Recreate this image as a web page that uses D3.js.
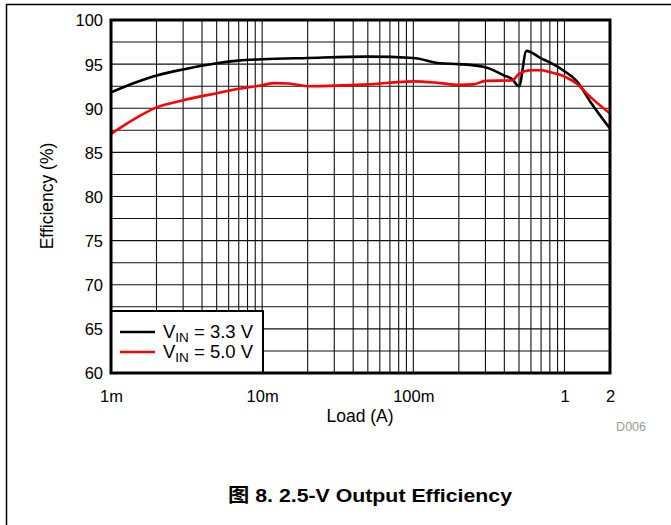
<!DOCTYPE html>
<html><head><meta charset="utf-8">
<script src="https://cdn.jsdelivr.net/npm/d3@7"></script>
<style>body{margin:0;background:#fff}svg{display:block;font-family:"Liberation Sans",Arial,sans-serif}</style>
</head><body><svg id="c" width="671" height="525"></svg>
<script>
const loads3v3 = [0.001,0.0015,0.002,0.003,0.005,0.007,0.01,0.02,0.05,0.1,0.15,0.2,0.3,0.4,0.45,0.5,0.56,0.7,0.8,1,1.2,1.5,2];
const eff3v3   = [91.8,93.0,93.7,94.4,95.1,95.4,95.55,95.7,95.85,95.7,95.1,95.0,94.65,93.7,93.3,92.5,96.5,95.66,95.2,94.2,93.1,90.6,87.7];
const loads5v0 = [0.001,0.0015,0.002,0.003,0.005,0.007,0.01,0.012,0.015,0.02,0.05,0.1,0.15,0.2,0.25,0.3,0.45,0.5,0.6,0.7,0.8,1,1.2,1.5,2];
const eff5v0   = [87.1,89.0,90.1,90.9,91.7,92.2,92.6,92.85,92.8,92.5,92.7,93.05,92.85,92.65,92.7,93.1,93.15,93.9,94.3,94.3,94.1,93.6,92.8,91.2,89.4];
const xTickVals = [0.001,0.01,0.1,1,2];
const xTickLabels = ["1m","10m","100m","1","2"];
const yTickVals = [60,65,70,75,80,85,90,95,100];
const seriesNames = ["3.3 V","5.0 V"];
const seriesColors = ["#000000","#ff0000"];

const svg = d3.select("#c");
const L=111,R=610,T=20,B=373;
const x = d3.scaleLog().domain([0.001,2]).range([L,R]);
const y = d3.scaleLinear().domain([60,100]).range([B,T]);

// outer frame (top & left)
svg.append("line").attr("x1",6).attr("x2",671).attr("y1",4.5).attr("y2",4.5).attr("stroke","#000").attr("stroke-width",1.5);
svg.append("line").attr("x1",6.5).attr("x2",6.5).attr("y1",4).attr("y2",525).attr("stroke","#000").attr("stroke-width",1.5);

// grid
const g = svg.append("g");
const vgrid=[];
for(let d=0.001; d<1.5; d*=10){ for(let k=1;k<10;k++){ const v=d*k; if(v>0.001 && v<2.0001) vgrid.push(v);} }
g.selectAll("line.v").data(vgrid).join("line")
  .attr("x1",d=>x(d)).attr("x2",d=>x(d)).attr("y1",T).attr("y2",B)
  .attr("stroke","#111").attr("stroke-width",1.1);
const hgrid=d3.range(62.5,100,2.5);
g.selectAll("line.h").data(hgrid).join("line")
  .attr("x1",L).attr("x2",R).attr("y1",d=>y(d)).attr("y2",d=>y(d))
  .attr("stroke","#111").attr("stroke-width",1.1);

// curves
const line = d3.line().curve(d3.curveMonotoneX).x(d=>x(d[0])).y(d=>y(d[1]));
const data = [d3.zip(loads3v3,eff3v3), d3.zip(loads5v0,eff5v0)];
svg.append("path").datum(data[0]).attr("d",line).attr("fill","none").attr("stroke",seriesColors[0]).attr("stroke-width",2.6);
svg.append("path").datum(data[1]).attr("d",line).attr("fill","none").attr("stroke",seriesColors[1]).attr("stroke-width",2.6);

// legend
const lg = svg.append("g");
lg.append("rect").attr("x",111).attr("y",311).attr("width",152).attr("height",62).attr("fill","#fff").attr("stroke","#000").attr("stroke-width",2);
seriesNames.forEach((n,i)=>{
  const yy = 332 + i*20;
  lg.append("line").attr("x1",120).attr("x2",155).attr("y1",yy).attr("y2",yy).attr("stroke",seriesColors[i]).attr("stroke-width",2.6);
  const t = lg.append("text").attr("x",163).attr("y",yy+6).attr("font-size",18.5).attr("fill","#000");
  t.append("tspan").text("V");
  t.append("tspan").text("IN").attr("font-size",13.5).attr("dy",4);
  t.append("tspan").text(" = "+n).attr("dy",-4);
});

// plot frame
svg.append("rect").attr("x",L).attr("y",T).attr("width",R-L).attr("height",B-T).attr("fill","none").attr("stroke","#000").attr("stroke-width",3);

// axes labels
const xAxis = d3.axisBottom(x).tickValues(xTickVals).tickFormat((d,i)=>xTickLabels[i]).tickSize(0).tickPadding(0);
const ax = svg.append("g").attr("transform",`translate(0,${B})`).call(xAxis);
ax.select(".domain").remove();
ax.selectAll("text").attr("font-size",16.5).attr("font-family","Liberation Sans, Arial, sans-serif").attr("fill","#000").attr("dy",0).attr("y",29);

const yAxis = d3.axisLeft(y).tickValues(yTickVals).tickSize(0).tickPadding(0);
const ay = svg.append("g").attr("transform",`translate(${L-8},0)`).call(yAxis);
ay.select(".domain").remove();
ay.selectAll("text").attr("font-size",16.5).attr("font-family","Liberation Sans, Arial, sans-serif").attr("fill","#000").attr("dy","0.36em");

svg.append("text").attr("x",360).attr("y",422).attr("text-anchor","middle").attr("font-size",17.5).text("Load (A)");
svg.append("text").attr("transform","translate(53,196) rotate(-90)").attr("text-anchor","middle").attr("font-size",17.5).text("Efficiency (%)");
svg.append("text").attr("x",646).attr("y",431).attr("text-anchor","end").attr("font-size",12.5).attr("fill","#999").text("D006");
svg.append("text").attr("x",370).attr("y",502).attr("text-anchor","middle").attr("font-size",19).attr("font-weight","bold")
  .attr("textLength",284).attr("lengthAdjust","spacingAndGlyphs")
  .style("font-family","'Liberation Sans', 'Noto Sans CJK SC', sans-serif").text("图 8. 2.5-V Output Efficiency");
</script></body></html>
